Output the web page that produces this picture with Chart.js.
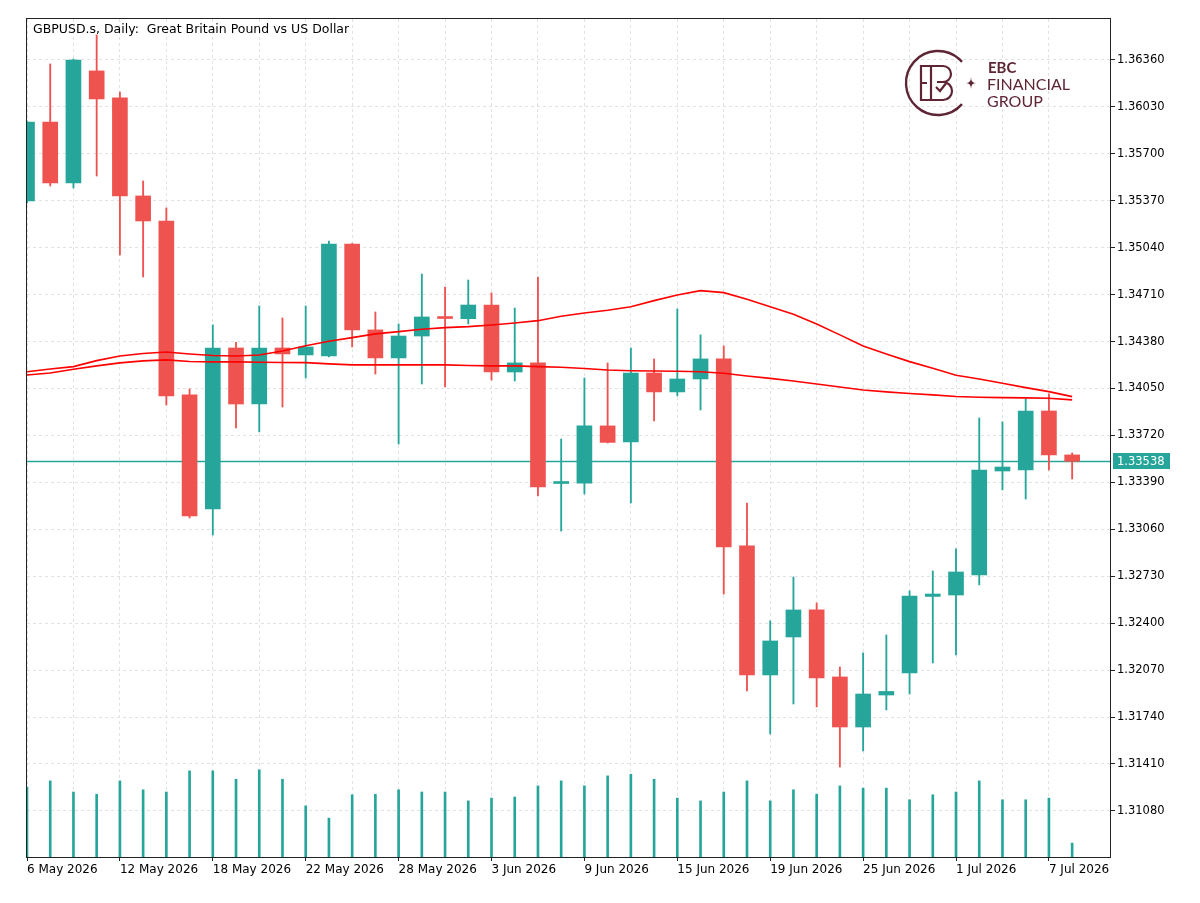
<!DOCTYPE html>
<html>
<head>
<meta charset="utf-8">
<script src="https://cdn.jsdelivr.net/npm/chart.js@4.4.1/dist/chart.umd.min.js"></script>
<style>
  html, body { margin: 0; padding: 0; background: #fff; }
  #wrap { width: 1200px; height: 903px; }
</style>
</head>
<body>
<div id="wrap"><canvas id="myChart" width="1200" height="903"></canvas></div>
<script>
// daily bars, GBPUSD.s
const dates = [
  "6 May 2026", "7 May 2026", "8 May 2026", "11 May 2026", "12 May 2026", "13 May 2026",
  "14 May 2026", "15 May 2026", "18 May 2026", "19 May 2026", "20 May 2026", "21 May 2026",
  "22 May 2026", "25 May 2026", "26 May 2026", "27 May 2026", "28 May 2026", "29 May 2026",
  "1 Jun 2026", "2 Jun 2026", "3 Jun 2026", "4 Jun 2026", "5 Jun 2026", "8 Jun 2026",
  "9 Jun 2026", "10 Jun 2026", "11 Jun 2026", "12 Jun 2026", "15 Jun 2026", "16 Jun 2026",
  "17 Jun 2026", "18 Jun 2026", "19 Jun 2026", "22 Jun 2026", "23 Jun 2026", "24 Jun 2026",
  "25 Jun 2026", "26 Jun 2026", "29 Jun 2026", "30 Jun 2026", "1 Jul 2026", "2 Jul 2026",
  "3 Jul 2026", "6 Jul 2026", "7 Jul 2026", "8 Jul 2026"
];
const opens = [
  1.35369, 1.35924, 1.35495, 1.36283, 1.36093, 1.35404, 1.35228, 1.34005, 1.33203, 1.34335,
  1.33941, 1.34335, 1.34286, 1.34279, 1.35066, 1.34462, 1.34265, 1.34419, 1.34553, 1.34541,
  1.34637, 1.34166, 1.34230, 1.33382, 1.33385, 1.33787, 1.33674, 1.34159, 1.34026, 1.34117,
  1.34258, 1.32943, 1.32036, 1.32303, 1.32493, 1.32022, 1.31670, 1.31895, 1.32050, 1.32588,
  1.32598, 1.32739, 1.33470, 1.33477, 1.33892, 1.33583
];
const highs = [
  1.35931, 1.36332, 1.36367, 1.36536, 1.36135, 1.35509, 1.35319, 1.34047, 1.34497, 1.34374,
  1.34630, 1.34546, 1.34630, 1.35087, 1.35070, 1.34588, 1.34504, 1.34855, 1.34764, 1.34813,
  1.34722, 1.34616, 1.34834, 1.33695, 1.34124, 1.34230, 1.34335, 1.34258, 1.34609, 1.34427,
  1.34349, 1.33245, 1.32416, 1.32725, 1.32542, 1.32092, 1.32191, 1.32317, 1.32627, 1.32767,
  1.32922, 1.33843, 1.33815, 1.33977, 1.34012, 1.33597
];
const lows = [
  1.35355, 1.35474, 1.35460, 1.35544, 1.34989, 1.34834, 1.33934, 1.33140, 1.33020, 1.33773,
  1.33745, 1.33920, 1.34124, 1.34272, 1.34342, 1.34152, 1.33660, 1.34082, 1.34061, 1.34504,
  1.34110, 1.34103, 1.33295, 1.33048, 1.33308, 1.33667, 1.33245, 1.33822, 1.33998, 1.33899,
  1.32605, 1.31923, 1.31621, 1.31832, 1.31811, 1.31389, 1.31502, 1.31790, 1.31902, 1.32120,
  1.32177, 1.32669, 1.33337, 1.33273, 1.33477, 1.33414
];
const closes = [
  1.35924, 1.35495, 1.36360, 1.36086, 1.35404, 1.35228, 1.33998, 1.33154, 1.34335, 1.33941,
  1.34335, 1.34293, 1.34342, 1.35066, 1.34462, 1.34265, 1.34419, 1.34553, 1.34542, 1.34637,
  1.34166, 1.34230, 1.33358, 1.33386, 1.33787, 1.33671, 1.34159, 1.34026, 1.34117, 1.34258,
  1.32936, 1.32036, 1.32275, 1.32493, 1.32015, 1.31670, 1.31902, 1.31920, 1.32591, 1.32605,
  1.32760, 1.33477, 1.33498, 1.33892, 1.33583, 1.33538
];
// two moving averages (red)
const maFast = [
  1.34168, 1.34187, 1.34204, 1.34246, 1.34279, 1.34296, 1.34307, 1.34293, 1.34282, 1.34279,
  1.34286, 1.34314, 1.34351, 1.34382, 1.34408, 1.34434, 1.34450, 1.34467, 1.34478, 1.34485,
  1.34497, 1.34511, 1.34527, 1.34558, 1.34581, 1.34600, 1.34625, 1.34668, 1.34708, 1.34738,
  1.34724, 1.34678, 1.34625, 1.34572, 1.34504, 1.34427, 1.34349, 1.34293, 1.34239, 1.34192,
  1.34143, 1.34117, 1.34087, 1.34056, 1.34028, 1.33993
];
const maSlow = [
  1.34145, 1.34159, 1.34185, 1.34209, 1.34230, 1.34244, 1.34251, 1.34240, 1.34237, 1.34237,
  1.34235, 1.34233, 1.34232, 1.34223, 1.34216, 1.34216, 1.34216, 1.34216, 1.34216, 1.34212,
  1.34209, 1.34209, 1.34204, 1.34199, 1.34191, 1.34180, 1.34175, 1.34173, 1.34171, 1.34168,
  1.34157, 1.34138, 1.34121, 1.34103, 1.34082, 1.34061, 1.34040, 1.34026, 1.34015, 1.34005,
  1.33994, 1.33989, 1.33986, 1.33984, 1.33981, 1.33970
];
// tick volumes
const volumes = [
  126000, 137000, 117000, 113000, 137000, 121000, 117000, 155000, 155000, 140000,
  157000, 140000, 92000, 70000, 112000, 113000, 121000, 117000, 117000, 101000,
  106000, 108000, 128000, 137000, 128000, 146000, 149000, 140000, 106000, 101000,
  117000, 137000, 101000, 121000, 113000, 128000, 124000, 124000, 103000, 112000,
  117000, 137000, 103000, 103000, 106000, 25000
];
const priceTicks = [
  1.31080, 1.31410, 1.31740, 1.32070, 1.32400, 1.32730, 1.33060, 1.33390,
  1.33720, 1.34050, 1.34380, 1.34710, 1.35040, 1.35370, 1.35700, 1.36030, 1.36360
];
const lastPrice = 1.33538;
const title = "GBPUSD.s, Daily:  Great Britain Pound vs US Dollar";

const UP = "#26a69a";
const DOWN = "#ef5350";
const FONT = "'DejaVu Sans', sans-serif";
const colors = opens.map((o, i) => (closes[i] >= o ? UP : DOWN));

const mtDecor = {
  id: "mtDecor",
  beforeDatasetsDraw(chart) {
    const { ctx, chartArea: a, scales: { y } } = chart;
    const py = Math.round(y.getPixelForValue(lastPrice)) + 0.5;
    ctx.save();
    ctx.strokeStyle = UP;
    ctx.lineWidth = 1.5;
    ctx.beginPath();
    ctx.moveTo(a.left, py);
    ctx.lineTo(a.right, py);
    ctx.stroke();
    ctx.restore();
  },
  afterDraw(chart) {
    const { ctx, chartArea: a, scales: { y } } = chart;
    ctx.save();
    // frame
    ctx.strokeStyle = "#222";
    ctx.lineWidth = 1;
    ctx.strokeRect(Math.round(a.left) - 0.5, Math.round(a.top) - 0.5,
      Math.round(a.right - a.left) + 1, Math.round(a.bottom - a.top) + 1);
    // title
    ctx.fillStyle = "#000";
    ctx.font = "12.5px " + FONT;
    ctx.textBaseline = "alphabetic";
    ctx.fillText(title, a.left + 6, 33);
    // last price label
    const py = Math.round(y.getPixelForValue(lastPrice));
    ctx.fillStyle = UP;
    ctx.fillRect(a.right + 3, py - 8, 57, 16);
    ctx.fillStyle = "#fff";
    ctx.font = "11.5px " + FONT;
    ctx.textBaseline = "middle";
    ctx.fillText(lastPrice.toFixed(5), a.right + 7, py + 1);
    // logo
    const cx = 938, cy = 83;
    const brand = "#5e2535";
    ctx.strokeStyle = brand;
    ctx.fillStyle = brand;
    ctx.lineWidth = 2.4;
    ctx.beginPath();
    ctx.arc(cx, cy, 32, 0.23 * Math.PI, 1.77 * Math.PI);
    ctx.stroke();
    ctx.lineWidth = 2.2;
    ctx.beginPath();
    ctx.moveTo(cx - 7, cy - 17); ctx.lineTo(cx - 17, cy - 17);
    ctx.lineTo(cx - 17, cy + 17); ctx.lineTo(cx - 7, cy + 17);
    ctx.moveTo(cx - 17, cy); ctx.lineTo(cx - 11, cy);
    ctx.moveTo(cx - 7, cy - 17); ctx.lineTo(cx - 7, cy + 17);
    ctx.moveTo(cx - 7, cy - 17); ctx.lineTo(cx + 5, cy - 17);
    ctx.arc(cx + 5, cy - 9, 8, -Math.PI / 2, Math.PI / 2);
    ctx.lineTo(cx - 1, cy - 1);
    ctx.moveTo(cx + 5, cy - 1);
    ctx.arc(cx + 5, cy + 8, 9, -Math.PI / 2, Math.PI / 2);
    ctx.lineTo(cx - 7, cy + 17);
    ctx.moveTo(cx - 2, cy + 4); ctx.lineTo(cx + 2, cy + 8); ctx.lineTo(cx + 9, cy - 1);
    ctx.stroke();
    // star
    const sx = cx + 33, sy = cy;
    ctx.beginPath();
    ctx.moveTo(sx, sy - 6);
    ctx.quadraticCurveTo(sx, sy, sx + 5, sy);
    ctx.quadraticCurveTo(sx, sy, sx, sy + 6);
    ctx.quadraticCurveTo(sx, sy, sx - 5, sy);
    ctx.quadraticCurveTo(sx, sy, sx, sy - 6);
    ctx.fill();
    ctx.textBaseline = "alphabetic";
    ctx.font = "bold 15px Lato, 'Open Sans', sans-serif";
    ctx.fillText("EBC", 988, 73);
    ctx.font = "16px Lato, 'Open Sans', sans-serif";
    ctx.fillText("FINANCIAL", 987, 90);
    ctx.fillText("GROUP", 987, 107);
    ctx.restore();
  }
};

const idx = dates.map((d, i) => i);

const data = {
  datasets: [
    {
      type: "line",
      data: idx.map(i => ({ x: i, y: maFast[i] })),
      borderColor: "#ff0000",
      borderWidth: 1.6,
      pointRadius: 0,
      tension: 0,
      yAxisID: "y",
      order: 1,
    },
    {
      type: "line",
      data: idx.map(i => ({ x: i, y: maSlow[i] })),
      borderColor: "#ff0000",
      borderWidth: 1.6,
      pointRadius: 0,
      tension: 0,
      yAxisID: "y",
      order: 1,
    },
    {
      // candle bodies
      type: "bar",
      data: idx.map(i => ({ x: i, y: [opens[i], closes[i]] })),
      backgroundColor: colors,
      borderWidth: 0,
      borderSkipped: false,
      barThickness: 15,
      minBarLength: 2,
      grouped: false,
      yAxisID: "y",
      order: 2,
    },
    {
      // wicks
      type: "bar",
      data: idx.map(i => ({ x: i, y: [lows[i], highs[i]] })),
      backgroundColor: colors,
      borderWidth: 0,
      barThickness: 1.2,
      grouped: false,
      yAxisID: "y",
      order: 3,
    },
    {
      // volume
      type: "bar",
      data: idx.map(i => ({ x: i, y: volumes[i] })),
      backgroundColor: UP,
      borderWidth: 0,
      barThickness: 2,
      grouped: false,
      yAxisID: "yv",
      order: 4,
    },
  ],
};

const config = {
  type: "bar",
  data: data,
  options: {
    responsive: false,
    animation: false,
    devicePixelRatio: 1,
    layout: { padding: { left: 27, top: 19, right: 0, bottom: 0 } },
    plugins: { legend: { display: false }, tooltip: { enabled: false } },
    scales: {
      x: {
        type: "linear",
        min: 0,
        max: 46.63,
        offset: false,
        afterBuildTicks: s => {
          s.ticks = idx.filter(i => i % 2 === 0).map(i => ({ value: i }));
        },
        afterFit: s => { s.height = 46; },
        grid: {
          offset: false,
          color: "#e2e2e2",
          lineWidth: 1,
          tickLength: 4,
          tickColor: c => (c.tick && c.tick.value % 4 === 0 ? "#222" : "rgba(0,0,0,0)"),
        },
        border: { display: true, color: "#222", dash: [3, 3] },
        ticks: {
          autoSkip: false,
          maxRotation: 0,
          minRotation: 0,
          align: "start",
          padding: 2,
          color: "#000",
          font: { family: FONT, size: 12 },
          callback: v => (v % 4 === 0 && dates[v] ? dates[v] : ""),
        },
      },
      y: {
        position: "right",
        min: 1.30756,
        max: 1.36648,
        afterBuildTicks: s => {
          s.ticks = priceTicks.map(v => ({ value: v }));
        },
        afterFit: s => { s.width = 90; },
        grid: {
          color: "#e2e2e2",
          lineWidth: 1,
          tickLength: 5,
          tickColor: "#222",
        },
        border: { display: true, color: "#222", dash: [3, 3] },
        ticks: {
          padding: 2,
          color: "#000",
          font: { family: FONT, size: 11.5 },
          callback: v => v.toFixed(5),
        },
      },
      yv: {
        display: false,
        min: 0,
        max: 1508400,
      },
    },
  },
  plugins: [mtDecor],
};

const myChart = new Chart(document.getElementById("myChart"), config);
</script>
</body>
</html>
